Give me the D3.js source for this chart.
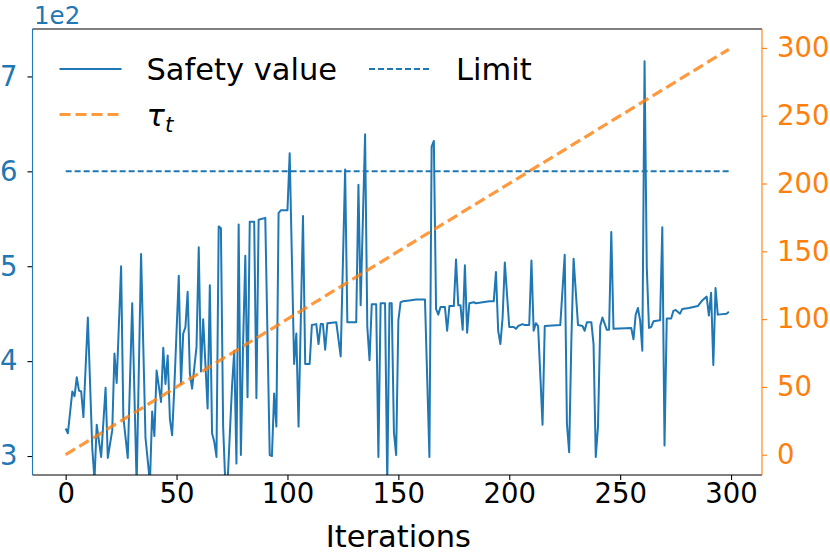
<html lang="en">
<head>
<meta charset="UTF-8">
<title>Safety value</title>
<style>
  body { margin: 0; background: #fff; }
  text { font-family: "DejaVu Sans", sans-serif; }
</style>
</head>
<body>
<script src="https://d3js.org/d3.v7.min.js"></script>
<div id="chart"></div>
<script>
// safety value vertices (iteration, value)
var iterations = [0,1,3,4,5,6,7,8,10,12,13,14,16,18,19,21,22,23,25,26,28,30,32,34,36,38,39,40,41,43,44,45,46,47,48,49,
  51,52,53,54,55,56,57,59,60,61,62,64,65,66,67,68,69,70,71,72,73,75,76,77,78,79,80,81,82,83,85,86,87,90,92,93,94,95,96,97,
  100,101,103,104,105,107,108,110,111,113,114,115,116,117,118,122,124,126,127,131,132,133,135,136,137,138,140,141,142,144,
  145,146,147,148,149,150,151,152,155,158,162,164,165,166,167,168,169,171,172,173,175,176,177,178,179,180,181,182,184,185,
  188,191,193,194,195,196,197,198,200,202,203,204,206,207,209,210,211,212,213,215,216,223,225,226,227,228,229,231,233,234,
  235,237,238,239,240,241,242,244,245,246,247,255,256,257,258,259,260,261,262,263,264,265,268,269,270,271,273,274,275,277,
  278,281,285,287,289,290,291,292,293,294,298,299];
var safety = [329,324,368,363,383,369,368,341,446,308,275,333,299,372,298,327,408,377,500,341,298,461,270,513,319,272,347,321,390,357,414,376,406,339,322,373,
  490,376,429,436,473,387,371,415,520,389,444,350,480,324,315,299,542,540,331,270,272,373,411,292,544,301,419,511,362,547,547,361,549,551,301,300,366,331,556,559,
  559,619,397,429,331,553,397,397,438,439,418,439,439,412,440,441,405,602,441,441,586,459,639,436,401,460,460,299,461,461,
  270,461,461,325,301,443,462,463,464,465,465,299,626,632,455,449,457,457,432,458,458,507,459,459,433,501,430,461,462,461,
  462,463,463,494,432,418,446,504,436,436,434,437,439,438,438,506,432,440,437,333,437,438,512,334,304,422,508,438,437,432,
  441,441,418,299,331,437,446,433,433,536,434,435,423,449,456,443,411,716,499,435,436,442,443,541,311,445,445,453,454,450,
  455,456,458,464,468,448,472,396,477,449,450,452];

// tau_t and limit (endpoints)
var tauIter = [0, 299];
var tauVals = [0, 299];
var limitIter = [0, 299];
var limitVal = 600;

var xTicks = [0, 50, 100, 150, 200, 250, 300];
var leftTicks = [300, 400, 500, 600, 700];
var rightTicks = [0, 50, 100, 150, 200, 250, 300];

var blue = "#1f77b4", orange = "#ff7f0e";

var margin = {top: 29, right: 68, bottom: 79, left: 32.5},
    width = 830 - margin.left - margin.right,
    height = 554 - margin.top - margin.bottom;

var svg = d3.select("#chart").append("svg")
    .attr("width", 830).attr("height", 554)
  .append("g")
    .attr("transform", "translate(" + margin.left + "," + margin.top + ")");

var x = d3.scaleLinear().domain([-14.95, 313.95]).range([0, width]);
var yL = d3.scaleLinear().domain([280, 750]).range([height, 0]);
var yR = d3.scaleLinear().domain([-14.95, 313.95]).range([height, 0]);

svg.append("clipPath").attr("id", "clip")
  .append("rect").attr("width", width).attr("height", height);

var plot = svg.append("g").attr("clip-path", "url(#clip)");

// limit
plot.append("path")
  .datum(limitIter)
  .attr("d", d3.line().x(function(d) { return x(d); }).y(yL(limitVal)))
  .attr("fill", "none").attr("stroke", blue).attr("stroke-width", 2)
  .attr("stroke-dasharray", "6,3");

// safety value
plot.append("path")
  .datum(iterations.map(function(d, i) { return [d, safety[i]]; }))
  .attr("d", d3.line().x(function(d) { return x(d[0]); }).y(function(d) { return yL(d[1]); }))
  .attr("fill", "none").attr("stroke", blue).attr("stroke-width", 2)
  .attr("stroke-linejoin", "round");

// tau
plot.append("path")
  .datum(tauIter.map(function(d, i) { return [d, tauVals[i]]; }))
  .attr("d", d3.line().x(function(d) { return x(d[0]); }).y(function(d) { return yR(d[1]); }))
  .attr("fill", "none").attr("stroke", orange).attr("stroke-opacity", 0.8)
  .attr("stroke-width", 3.2).attr("stroke-dasharray", "11,5");

// axes
var fs = 27.5;
var gx = svg.append("g").attr("transform", "translate(0," + height + ")")
  .call(d3.axisBottom(x).tickValues(xTicks).tickSize(5).tickSizeOuter(0).tickPadding(3));
gx.selectAll("text").attr("font-size", fs).attr("fill", "#000").style("font-family", "DejaVu Sans");
gx.selectAll("line").attr("stroke", "#000").attr("stroke-width", 1.1);
gx.select(".domain").remove();

var gl = svg.append("g")
  .call(d3.axisLeft(yL).tickValues(leftTicks).tickFormat(function(d) { return d / 100; })
    .tickSize(5).tickSizeOuter(0).tickPadding(10));
gl.selectAll("text").attr("font-size", fs).attr("fill", blue).style("font-family", "DejaVu Sans");
gl.selectAll("line").attr("stroke", "#000").attr("stroke-width", 1.1);
gl.select(".domain").remove();

var gr = svg.append("g").attr("transform", "translate(" + width + ",0)")
  .call(d3.axisRight(yR).tickValues(rightTicks).tickSize(5).tickSizeOuter(0).tickPadding(10));
gr.selectAll("text").attr("font-size", fs).attr("fill", orange).style("font-family", "DejaVu Sans");
gr.selectAll("line").attr("stroke", orange).attr("stroke-width", 1.1);
gr.select(".domain").remove();

// spines
svg.append("line").attr("x1", 0).attr("x2", width).attr("y1", 0).attr("y2", 0).attr("stroke", "#000").attr("stroke-width", 1.1);
svg.append("line").attr("x1", 0).attr("x2", width).attr("y1", height).attr("y2", height).attr("stroke", "#000").attr("stroke-width", 1.1);
svg.append("line").attr("x1", 0).attr("x2", 0).attr("y1", 0).attr("y2", height).attr("stroke", blue).attr("stroke-width", 1.1);
svg.append("line").attr("x1", width).attr("x2", width).attr("y1", 0).attr("y2", height).attr("stroke", orange).attr("stroke-width", 1.1);

// offset text
svg.append("text").attr("x", 1.5).attr("y", -5).attr("font-size", 24.5).attr("fill", blue).text("1e2");

// x label
svg.append("text").attr("x", x(150)).attr("y", 518).attr("text-anchor", "middle")
  .attr("font-size", 30.5).text("Iterations");

// legend
var lg = svg.append("g");
var items = [
  {label: "Safety value", col: 0, row: 0, color: blue, w: 2, dash: null, op: 1},
  {label: "Limit", col: 1, row: 0, color: blue, w: 2, dash: "6,3", op: 1},
  {label: "tau", col: 0, row: 1, color: orange, w: 3.2, dash: "11,5", op: 0.8}
];
var colX = [27, 336.5], rowY = [40, 85.5];
items.forEach(function(it) {
  var gx0 = colX[it.col], gy0 = rowY[it.row];
  lg.append("line").attr("x1", gx0).attr("x2", gx0 + 62).attr("y1", gy0).attr("y2", gy0)
    .attr("stroke", it.color).attr("stroke-width", it.w).attr("stroke-opacity", it.op)
    .attr("stroke-dasharray", it.dash);
  var t = lg.append("text").attr("x", gx0 + 87).attr("y", gy0 + 11).attr("font-size", 30.5);
  if (it.label === "tau") {
    t.append("tspan").attr("font-style", "italic").text("τ");
    t.append("tspan").attr("font-style", "italic").attr("font-size", 21.5).attr("dy", 6).text("t");
  } else {
    t.text(it.label);
  }
});
</script>
</body>
</html>
